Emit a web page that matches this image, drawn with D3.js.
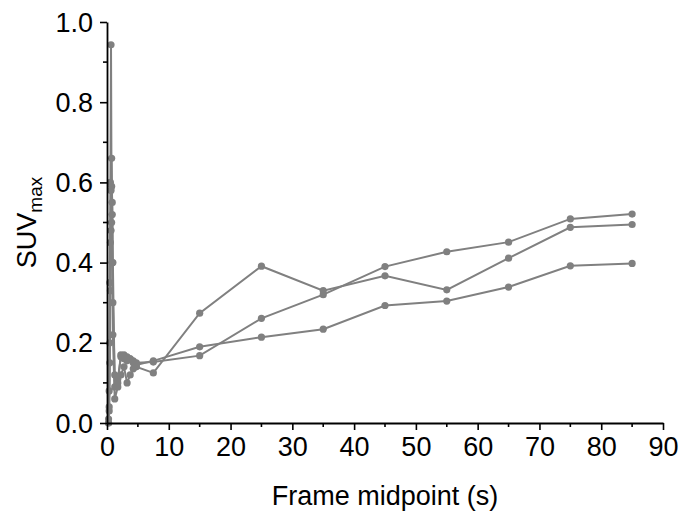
<!DOCTYPE html>
<html>
<head>
<meta charset="utf-8">
<script src="https://cdn.jsdelivr.net/npm/d3@7"></script>
<style>
  html, body { margin: 0; padding: 0; background: #fff; }
  svg { display: block; }
  text { font-family: "Liberation Sans", Arial, sans-serif; fill: #000; }
</style>
</head>
<body>
<script>
// Frame midpoints (s)
const frameTimes = [0.25, 0.35, 0.45, 0.55, 0.65, 0.75, 0.85, 0.95,
                    1.25, 1.75, 2.25, 2.75, 3.25, 3.75, 4.25, 4.75,
                    7.5, 15, 25, 35, 45, 55, 65, 75, 85];
// SUVmax per subject
const seriesA = [0.01, 0.08, 0.35, 0.60, 0.943, 0.50, 0.40, 0.22,
                 0.06, 0.09, 0.12, 0.14, 0.10, 0.12, 0.135, 0.14,
                 0.125, 0.274, 0.391, 0.330, 0.367, 0.332, 0.411, 0.488, 0.495];
const seriesB = [0.00, 0.04, 0.20, 0.45, 0.58, 0.66, 0.52, 0.30,
                 0.12, 0.10, 0.17, 0.16, 0.165, 0.16, 0.155, 0.15,
                 0.152, 0.168, 0.261, 0.320, 0.390, 0.427, 0.451, 0.509, 0.521];
const seriesC = [0.00, 0.03, 0.15, 0.33, 0.48, 0.59, 0.55, 0.40,
                 0.09, 0.11, 0.165, 0.17, 0.155, 0.16, 0.15, 0.145,
                 0.155, 0.190, 0.214, 0.234, 0.293, 0.304, 0.339, 0.392, 0.398];
const xTicks = [0, 10, 20, 30, 40, 50, 60, 70, 80, 90];
const yTicks = [0.0, 0.2, 0.4, 0.6, 0.8, 1.0];
const xMinor = [5, 15, 25, 35, 45, 55, 65, 75, 85];
const yMinor = [0.1, 0.3, 0.5, 0.7, 0.9];

(function () {
const W = 685, H = 517;
const mL = 107, mR = 663, mT = 22, mB = 423;
const color = "#808080";

const svg = d3.select("body").append("svg").attr("width", W).attr("height", H);

const x = d3.scaleLinear().domain([0, 90]).range([mL, mR]);
const y = d3.scaleLinear().domain([0, 1]).range([mB, mT]);

const allSeries = [seriesA, seriesB, seriesC];
const line = d3.line().x(d => x(d[0])).y(d => y(d[1]));

allSeries.forEach(s => {
  const pts = frameTimes.map((t, i) => [t, s[i]]);
  svg.append("path").datum(pts)
    .attr("d", line).attr("fill", "none")
    .attr("stroke", color).attr("stroke-width", 2);
  svg.append("g").selectAll("circle").data(pts).join("circle")
    .attr("cx", d => x(d[0])).attr("cy", d => y(d[1]))
    .attr("r", 3.6).attr("fill", color);
});

// Axes
const fs = 27;
const xAxis = svg.append("g").attr("transform", `translate(0,${mB})`)
  .call(d3.axisBottom(x).tickValues(xTicks).tickFormat(d3.format("d")).tickSize(7).tickSizeOuter(0));
xAxis.append("g").selectAll("line").data(xMinor).join("line")
  .attr("x1", d => x(d)).attr("x2", d => x(d)).attr("y1", 0).attr("y2", 4)
  .attr("stroke", "#000").attr("stroke-width", 1.6);

const yAxis = svg.append("g").attr("transform", `translate(${mL},0)`)
  .call(d3.axisLeft(y).tickValues(yTicks).tickFormat(d3.format(".1f")).tickSize(7).tickSizeOuter(0));
yAxis.append("g").selectAll("line").data(yMinor).join("line")
  .attr("y1", d => y(d)).attr("y2", d => y(d)).attr("x1", 0).attr("x2", -4)
  .attr("stroke", "#000").attr("stroke-width", 1.6);

[xAxis, yAxis].forEach(a => {
  a.select(".domain").attr("stroke", "#000").attr("stroke-width", 1.8);
  a.selectAll(".tick line").attr("stroke", "#000").attr("stroke-width", 1.6);
  a.selectAll(".tick text").attr("font-size", fs)
    .attr("font-family", "'Liberation Sans', Arial, sans-serif").attr("fill", "#000");
});
xAxis.selectAll(".tick text").attr("dy", "0.85em");
yAxis.selectAll(".tick text").attr("x", -14).attr("dy", "0.34em");

// Axis titles
svg.append("text")
  .attr("x", (mL + mR) / 2).attr("y", 505)
  .attr("text-anchor", "middle").attr("font-size", fs)
  .text("Frame midpoint (s)");

const yt = svg.append("text")
  .attr("transform", `translate(36,${(mT + mB) / 2}) rotate(-90)`)
  .attr("text-anchor", "middle").attr("font-size", fs);
yt.append("tspan").text("SUV");
yt.append("tspan").attr("font-size", 19).attr("dy", 6).text("max");
})();
</script>
</body>
</html>
